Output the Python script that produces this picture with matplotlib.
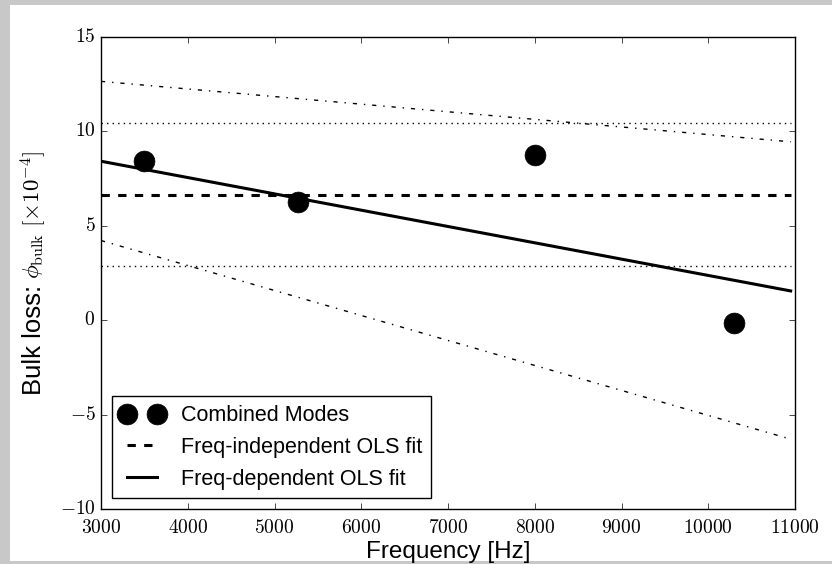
import matplotlib
matplotlib.use("Agg")
import matplotlib.pyplot as plt
from matplotlib.patches import Rectangle
from matplotlib.ticker import FuncFormatter

# measured modes
mode_freq = [3500, 5270, 8000, 10300]
mode_loss = [8.42, 6.25, 8.75, -0.15]

# fits
fit_freq = [3000, 10950]
indep_fit = [6.65, 6.65]
indep_upper = [10.45, 10.45]
indep_lower = [2.85, 2.85]
dep_fit = [8.42, 1.55]
dep_upper = [12.65, 9.45]
dep_lower = [4.22, -6.3]

x_ticks = [3000, 4000, 5000, 6000, 7000, 8000, 9000, 10000, 11000]
y_ticks = [-10, -5, 0, 5, 10, 15]

plt.style.use("classic")
plt.rcParams["mathtext.fontset"] = "cm"
plt.rcParams["font.family"] = ["Liberation Sans", "DejaVu Sans"]

W, H = 832, 564
fig = plt.figure(figsize=(W / 100, H / 100), dpi=100, facecolor="#c8c8c8")
fig.patches.append(Rectangle((10 / W, 3 / H), 1, 556 / H,
                             transform=fig.transFigure, facecolor="white",
                             edgecolor="none", zorder=-1))
ax = fig.add_axes([101 / W, (H - 509) / H, 694 / W, 472 / H])

ax.plot(mode_freq, mode_loss, "o", color="black", markersize=15,
        label="Combined Modes")
ax.plot(fit_freq, indep_fit, "--", color="black", lw=2.2,
        label="Freq-independent OLS fit")
ax.plot(fit_freq, indep_upper, ":", color="black", lw=1)
ax.plot(fit_freq, indep_lower, ":", color="black", lw=1)
ax.plot(fit_freq, dep_fit, "-", color="black", lw=2.2,
        label="Freq-dependent OLS fit")
ax.plot(fit_freq, dep_upper, "-.", color="black", lw=1)
ax.plot(fit_freq, dep_lower, "-.", color="black", lw=1)

ax.set_xlim(3000, 11000)
ax.set_ylim(-10, 15)
ax.set_xticks(x_ticks)
ax.set_yticks(y_ticks)
ax.xaxis.set_major_formatter(FuncFormatter(lambda v, p: f"${v:g}$"))
ax.yaxis.set_major_formatter(FuncFormatter(lambda v, p: f"${v:g}$"))
ax.tick_params(labelsize=14)
ax.tick_params(axis="x", pad=7)
ax.set_xlabel("Frequency [Hz]", fontsize=17.5, labelpad=3)

# y label: sans text followed by the math part
t1 = fig.text(41 / W, 1 - 395 / H, "Bulk loss:", fontsize=18.5, rotation=90,
              rotation_mode="anchor", ha="left", va="baseline")
fig.canvas.draw()
bb = t1.get_window_extent()
fig.text(41 / W, (bb.y1 + 6) / H, r"$\phi_{\rm bulk}\ [\times10^{-4}]$",
         fontsize=16.5, rotation=90, rotation_mode="anchor",
         ha="left", va="baseline")

ax.legend(loc="lower left", numpoints=2, fontsize=15.5, handlelength=2.0,
          handletextpad=0.8)

fig.savefig("out.png", dpi=100, facecolor=fig.get_facecolor())
